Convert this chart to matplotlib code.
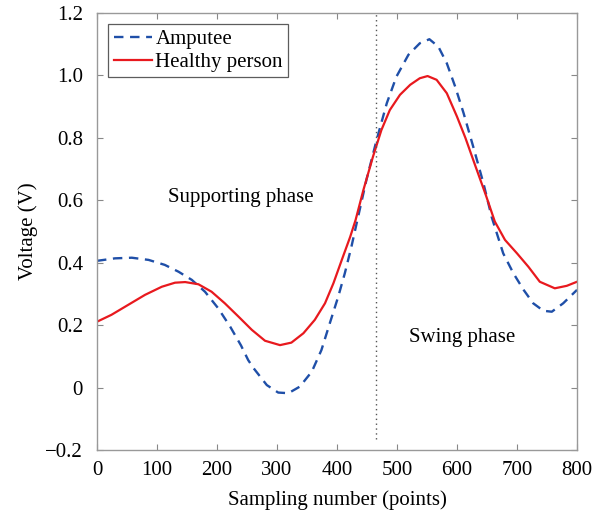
import numpy as np
import matplotlib
matplotlib.use("Agg")
import matplotlib.pyplot as plt

# Values
amp_x = [0, 30, 58, 86, 113, 136, 158, 180, 202, 222, 240, 252, 261, 283, 302,
         319, 338, 358, 374, 388, 402, 413, 424, 434, 449, 466, 483, 499, 519,
         538, 554, 569, 583, 597, 611, 627, 644, 658, 677, 694, 711, 727, 744,
         758, 777, 800]
amp_y = [0.406, 0.414, 0.416, 0.409, 0.393, 0.371, 0.345, 0.307, 0.254, 0.195,
         0.135, 0.088, 0.062, 0.008, -0.016, -0.018, 0.003, 0.051, 0.120,
         0.206, 0.291, 0.366, 0.451, 0.537, 0.665, 0.793, 0.911, 0.996, 1.066,
         1.103, 1.116, 1.092, 1.039, 0.964, 0.879, 0.772, 0.655, 0.545, 0.430,
         0.366, 0.313, 0.270, 0.246, 0.243, 0.270, 0.313]

healthy_x = [0, 24, 52, 80, 108, 130, 147, 169, 191, 213, 236, 258, 280, 305,
             324, 344, 363, 380, 394, 408, 422, 431, 444, 460, 474, 488, 505,
             522, 538, 551, 566, 583, 600, 614, 631, 648, 663, 680, 700, 719,
             738, 763, 783, 800]
healthy_y = [0.211, 0.233, 0.265, 0.297, 0.323, 0.336, 0.338, 0.331, 0.307,
             0.270, 0.227, 0.185, 0.150, 0.136, 0.144, 0.174, 0.217, 0.270,
             0.334, 0.409, 0.483, 0.537, 0.633, 0.740, 0.825, 0.889, 0.938,
             0.970, 0.991, 0.998, 0.986, 0.943, 0.868, 0.800, 0.708, 0.617,
             0.532, 0.473, 0.430, 0.387, 0.339, 0.318, 0.326, 0.339]

phase_split = 465
x_ticks = [0, 100, 200, 300, 400, 500, 600, 700, 800]
y_ticks = [-0.2, 0, 0.2, 0.4, 0.6, 0.8, 1.0, 1.2]
y_tick_labels = ["\u22120.2", "0", "0.2", "0.4", "0.6", "0.8", "1.0", "1.2"]

plt.rcParams['font.family'] = ['Liberation Serif', 'DejaVu Serif']

fig = plt.figure(figsize=(6.04, 5.17), dpi=100)
ax = fig.add_axes([97 / 604, 1 - 450 / 517, 480 / 604, 437 / 517])

ax.plot(amp_x, amp_y, color='#1f4fa8', linestyle=(0, (4, 2.8)), linewidth=1.7,
        label='Amputee')
ax.plot(healthy_x, healthy_y, color='#e8191e', linestyle='-', linewidth=1.6,
        label='Healthy person')
ax.plot([phase_split, phase_split], [-0.165, 1.2], color='#555555',
        linestyle=(0, (1, 2.5)), linewidth=1.0)

ax.text(240, 0.61, 'Supporting phase', fontsize=15, ha='center', va='center')
ax.text(608, 0.16, 'Swing phase', fontsize=15, ha='center', va='center')

ax.set_xlim(0, 800)
ax.set_ylim(-0.2, 1.2)
ax.set_xticks(x_ticks)
ax.set_yticks(y_ticks)
ax.set_yticklabels(y_tick_labels)
ax.tick_params(direction='in', top=True, right=True, labelsize=15,
               color='#888888', length=4)
ax.tick_params(axis='x', pad=8)
ax.tick_params(axis='y', pad=10)
for s in ax.spines.values():
    s.set_color('#999999')
    s.set_linewidth(1.0)

ax.set_xlabel('Sampling number (points)', fontsize=15, labelpad=7)
ax.set_ylabel('Voltage (V)', fontsize=15, labelpad=5)

leg = ax.legend(loc='upper left', fontsize=15, frameon=True, fancybox=False,
                edgecolor='#333333', borderpad=0.25, handlelength=1.85,
                handletextpad=0.15, labelspacing=0.15, borderaxespad=0.55)
leg.get_frame().set_linewidth(0.9)

fig.savefig('out.png', dpi=100)
